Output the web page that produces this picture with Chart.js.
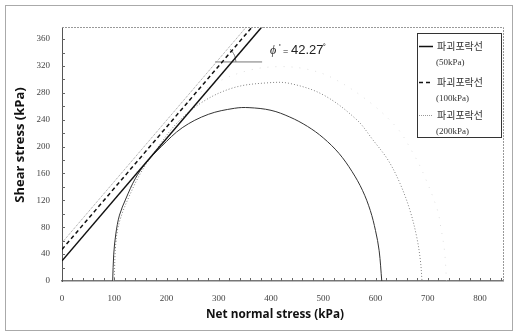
<!doctype html>
<html lang="ko">
<head>
    <meta charset="utf-8">
    <title>Shear stress vs net normal stress</title>
    <style>
        body { margin: 0; background: #fff; }
        canvas { display: block; }
    </style>
</head>
<body>
    <canvas id="myChart" width="517" height="333" style="width:517px;height:333px"></canvas>

    <script src="https://cdn.jsdelivr.net/npm/chart.js"></script>
    <script>
        // setup - values
        const xTicks = [0, 100, 200, 300, 400, 500, 600, 700, 800];
        const yTicks = [0, 40, 80, 120, 160, 200, 240, 280, 320, 360];
        const legendNames = ['파괴포락선', '파괴포락선', '파괴포락선'];
        const legendPressures = ['(50kPa)', '(100kPa)', '(200kPa)'];

        // failure envelopes (sigma, tau)
        const envelope50 = [[0, 30], [400, 394]];
        const envelope100 = [[0, 47], [400, 411]];
        const envelope200 = [[0, 57], [400, 421]];

        // mohr circles
        const circleSolid = [[97, 0], [99, 40], [103, 70], [110, 98], [122, 122], [140, 152], [160, 175],
            [190, 200], [230, 228], [280, 248], [330, 257], [358, 258], [400, 254], [436, 244], [470, 230],
            [500, 213], [530, 190], [555, 163], [575, 135], [590, 105], [600, 75], [607, 45], [612, 0]];
        const circleDotted = [[100, 0], [102, 45], [106, 75], [114, 98], [128, 125], [150, 160], [180, 195],
            [220, 235], [270, 267], [330, 288], [395, 295], [436, 294], [500, 277], [564, 240], [595, 210],
            [624, 180], [647, 145], [666, 105], [679, 65], [686, 30], [689, 0]];
        const circleFaint = [[98, 0], [103, 56], [112, 93], [130, 139], [160, 189], [200, 234], [250, 272],
            [300, 297], [360, 314], [417, 319], [470, 315], [518, 302], [584, 269], [641, 228], [672, 190],
            [691, 161], [718, 107], [725, 80], [732, 45], [736, 0]];

        // angle mark for phi'
        const angleLine = [[293, 326], [383, 326]];
        const angleArc = [[322, 345], [330, 336], [333, 326]];
        const phiValue = '42.27';

        const pts = arr => arr.map(p => ({ x: p[0], y: p[1] }));

        const envStyles = [
            { color: '#111', width: 1.5, dash: [] },
            { color: '#111', width: 1.5, dash: [4, 3] },
            { color: '#999', width: 1, dash: [1, 1] }
        ];

        const data = {
            datasets: [
                { data: pts(envelope50), borderColor: envStyles[0].color, borderWidth: envStyles[0].width, borderDash: envStyles[0].dash },
                { data: pts(envelope100), borderColor: envStyles[1].color, borderWidth: envStyles[1].width, borderDash: envStyles[1].dash },
                { data: pts(envelope200), borderColor: envStyles[2].color, borderWidth: envStyles[2].width, borderDash: envStyles[2].dash },
                { data: pts(circleSolid), borderColor: '#333', borderWidth: 1, tension: 0.35 },
                { data: pts(circleDotted), borderColor: '#808080', borderWidth: 1, borderDash: [1, 2], tension: 0.35 },
                { data: pts(circleFaint), borderColor: '#dedede', borderWidth: 1, borderDash: [1, 7], tension: 0.35 },
                { data: pts(angleLine), borderColor: '#777', borderWidth: 1 },
                { data: pts(angleArc), borderColor: '#777', borderWidth: 1, tension: 0.4 }
            ]
        };
        data.datasets.forEach(d => { d.showLine = true; d.pointRadius = 0; d.fill = false; });

        const decor = {
            id: 'decor',
            afterDraw: (chart) => {
                const ctx = chart.ctx;
                const a = chart.chartArea;
                const xs = chart.scales.x, ys = chart.scales.y;
                ctx.save();

                // outer frame
                ctx.strokeStyle = '#aaa';
                ctx.lineWidth = 1;
                ctx.strokeRect(5.5, 5.5, 507, 325);

                // plot frame top / right
                ctx.strokeStyle = '#999';
                ctx.setLineDash([2, 1]);
                ctx.beginPath();
                ctx.moveTo(a.left, a.top + 0.5);
                ctx.lineTo(a.right + 0.5, a.top + 0.5);
                ctx.lineTo(a.right + 0.5, a.bottom);
                ctx.stroke();
                ctx.setLineDash([]);

                // minor ticks
                ctx.strokeStyle = '#666';
                ctx.beginPath();
                for (let v = 20; v < xs.max; v += 20) {
                    const px = Math.round(xs.getPixelForValue(v)) + 0.5;
                    ctx.moveTo(px, a.bottom);
                    ctx.lineTo(px, a.bottom - 3);
                }
                for (let v = 20; v < ys.max; v += 20) {
                    const py = Math.round(ys.getPixelForValue(v)) + 0.5;
                    ctx.moveTo(a.left, py);
                    ctx.lineTo(a.left + 3, py);
                }
                ctx.stroke();

                // phi' label
                ctx.fillStyle = '#222';
                ctx.textBaseline = 'alphabetic';
                ctx.textAlign = 'left';
                ctx.font = 'italic 12px "Liberation Serif"';
                ctx.fillText('ϕ', 270, 54);
                ctx.font = '9px "Liberation Sans"';
                ctx.fillText("'", 279, 50);
                ctx.fillText('=', 283, 54);
                ctx.font = '13px "Liberation Sans"';
                ctx.fillText(phiValue, 291, 54);
                ctx.font = '9px "Liberation Sans"';
                ctx.fillText('˚', 323, 51);

                // axis titles
                ctx.fillStyle = '#111';
                ctx.font = 'bold 13px "Open Sans"';
                ctx.textAlign = 'center';
                ctx.textBaseline = 'middle';
                ctx.fillText('Net normal stress (kPa)', 275, 314, 138);
                ctx.save();
                ctx.translate(20, 145);
                ctx.rotate(-Math.PI / 2);
                ctx.fillText('Shear stress (kPa)', 0, 0, 116);
                ctx.restore();

                // legend
                ctx.strokeStyle = '#333';
                ctx.lineWidth = 1;
                ctx.strokeRect(417.5, 33.5, 84, 104);
                const rows = [46, 82, 115];
                ctx.textAlign = 'left';
                ctx.textBaseline = 'middle';
                rows.forEach((ry, i) => {
                    const st = envStyles[i];
                    ctx.strokeStyle = st.color;
                    ctx.lineWidth = st.width;
                    ctx.setLineDash(st.dash);
                    ctx.beginPath();
                    ctx.moveTo(419, ry + 0.5);
                    ctx.lineTo(433, ry + 0.5);
                    ctx.stroke();
                    ctx.setLineDash([]);
                    ctx.fillStyle = '#333';
                    ctx.font = '10px "Noto Sans CJK KR"';
                    ctx.fillText(legendNames[i], 437, ry, 47);
                    ctx.font = '9px "Liberation Serif"';
                    ctx.fillText(legendPressures[i], 436, ry + 17);
                });

                ctx.restore();
            }
        };

        // config
        const config = {
            type: 'scatter',
            data,
            options: {
                responsive: false,
                animation: false,
                layout: { padding: { top: 27, right: 14, left: 0, bottom: 0 } },
                plugins: {
                    legend: { display: false },
                    tooltip: { enabled: false }
                },
                scales: {
                    x: {
                        type: 'linear',
                        min: 0,
                        max: 844,
                        afterBuildTicks: (s) => { s.ticks = xTicks.map(v => ({ value: v })); },
                        afterFit: (s) => { s.height = 52; },
                        grid: { drawOnChartArea: false, drawTicks: false },
                        border: { color: '#777', width: 1.5 },
                        ticks: { padding: 12, color: '#444', font: { size: 9, family: 'Liberation Serif' } }
                    },
                    y: {
                        type: 'linear',
                        min: 0,
                        max: 378,
                        afterBuildTicks: (s) => { s.ticks = yTicks.map(v => ({ value: v })); },
                        afterFit: (s) => { s.width = 62; },
                        grid: { drawOnChartArea: false, drawTicks: false },
                        border: { color: '#555', width: 1 },
                        ticks: { padding: 12, color: '#444', font: { size: 9, family: 'Liberation Serif' } }
                    }
                }
            },
            plugins: [decor]
        };

        // render init block
        const myChart = new Chart(document.getElementById('myChart'), config);
    </script>
</body>
</html>
